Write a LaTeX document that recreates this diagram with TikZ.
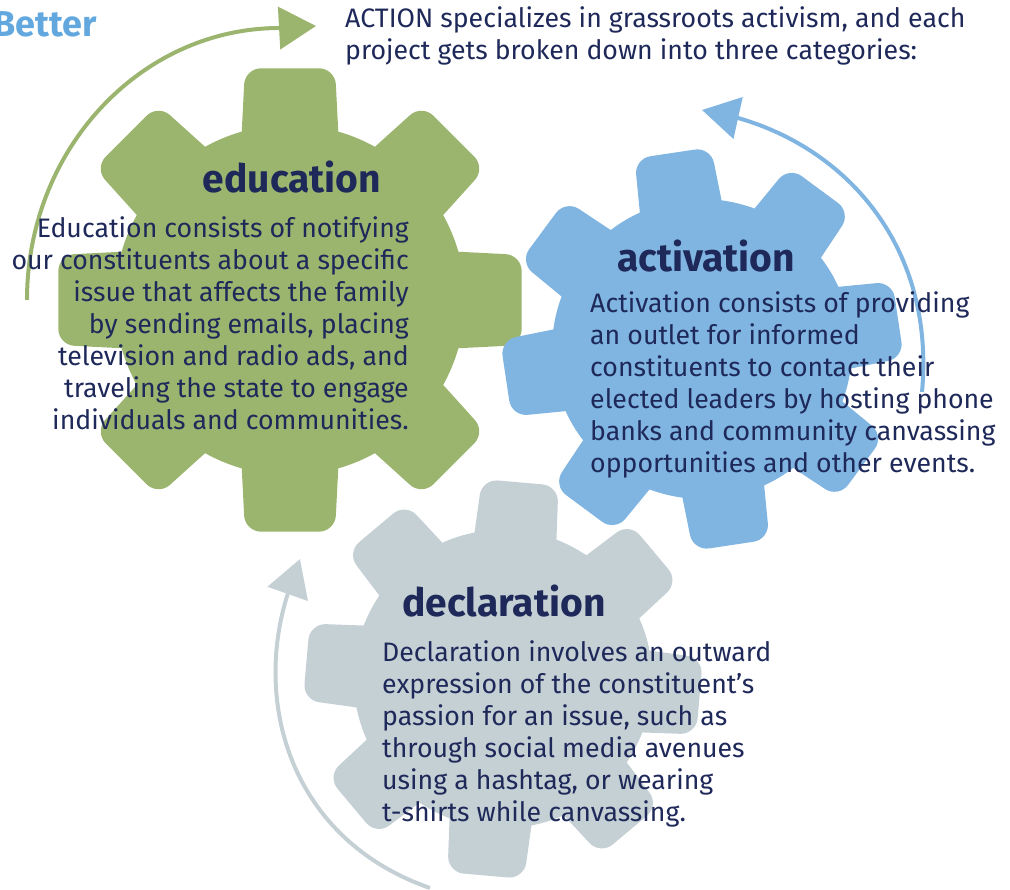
\documentclass[tikz,border=0pt]{standalone}
\usepackage{fontspec}
\setmainfont{Fira Sans}
\usetikzlibrary{arrows.meta, calc}

\definecolor{edugreen}{RGB}{155,181,111}
\definecolor{actblue}{RGB}{128,181,226}
\definecolor{decgrey}{RGB}{197,208,213}
\definecolor{inkblue}{RGB}{30,41,90}
\definecolor{headblue}{RGB}{98,168,222}

% #1 centre, #2 rotation, #3 outer radius, #4 colour
\newcommand{\cog}[4]{%
  \begin{scope}[shift={#1}, rotate=#2]
    \fill[#4] (0,0) circle[radius=0.742*#3];
    \foreach \a in {0,45,...,315}
      \fill[#4, rounded corners=16pt]
        ($({\a-16}:{0.742*#3})!-1!({\a-11}:{#3})$) -- ({\a-11}:{#3})
        -- ({\a+11}:{#3}) -- ($({\a+16}:{0.742*#3})!-1!({\a+11}:{#3})$) -- cycle;
  \end{scope}}

\begin{document}
\begin{tikzpicture}[x=1pt, y=1pt,
    cycle arrow/.style={line width=4pt, -{Triangle[length=37pt, width=42pt]}},
    cogtitle/.style={text=inkblue, font=\fontsize{39}{44}\selectfont\bfseries, inner sep=0pt},
    cogtext/.style={text=inkblue, font=\fontsize{26.7}{32}\selectfont, inner sep=0pt}]
    \useasboundingbox (0,0) rectangle (1010,890);
    \clip (0,0) rectangle (1010,890);

    \coordinate (edu_start) at (27,590);
    \coordinate (edu_tip) at (316,864);
    \coordinate (act_start) at (922,498);
    \coordinate (act_tip) at (702,780);
    \coordinate (dec_start) at (430,2);
    \coordinate (dec_tip) at (300,331);

    \draw[cycle arrow, edugreen] (edu_start) arc[start angle=180, end angle=90, x radius=253, y radius=272] -- (edu_tip);
    \draw[cycle arrow, actblue] (act_start) .. controls (935,640) and (850,740) .. (738,772) -- (act_tip);
    \draw[cycle arrow, decgrey] (dec_start) .. controls (292,50) and (252,185) .. (288,297) -- (dec_tip);

    \cog{(290,590)}{0}{236}{edugreen}
    \cog{(702,541)}{8.5}{202}{actblue}
    \cog{(503,211)}{-5}{201}{decgrey}

    % multi-line nodes: base is the last line
    \node[text=headblue, font=\fontsize{36}{40}\selectfont\bfseries, inner sep=0pt, anchor=base east] (better) at (97,853) {Better};
    \node[cogtext, align=left, anchor=base west] (intro) at (345,830)
        {ACTION specializes in grassroots activism, and each\\project gets broken down into three categories:};

    \node[cogtitle, anchor=base] (edu_title) at (292,697) {education};
    \node[cogtext, align=right, anchor=base east] (edu_text) at (409,460)
        {Education consists of notifying\\our constituents about a specific\\issue that affects the family\\by sending emails, placing\\television and radio ads, and\\traveling the state to engage\\individuals and communities.};

    \node[cogtitle, anchor=base west] (act_title) at (617,618) {activation};
    \node[cogtext, align=left, anchor=base west] (act_text) at (590,417)
        {Activation consists of providing\\an outlet for informed\\constituents to contact their\\elected leaders by hosting phone\\banks and community canvassing\\opportunities and other events.};

    \node[cogtitle, anchor=base west] (dec_title) at (402,273) {declaration};
    \node[cogtext, align=left, anchor=base west] (dec_text) at (382,68)
        {Declaration involves an outward\\expression of the constituent’s\\passion for an issue, such as\\through social media avenues\\using a hashtag, or wearing\\t-shirts while canvassing.};
\end{tikzpicture}
\end{document}
